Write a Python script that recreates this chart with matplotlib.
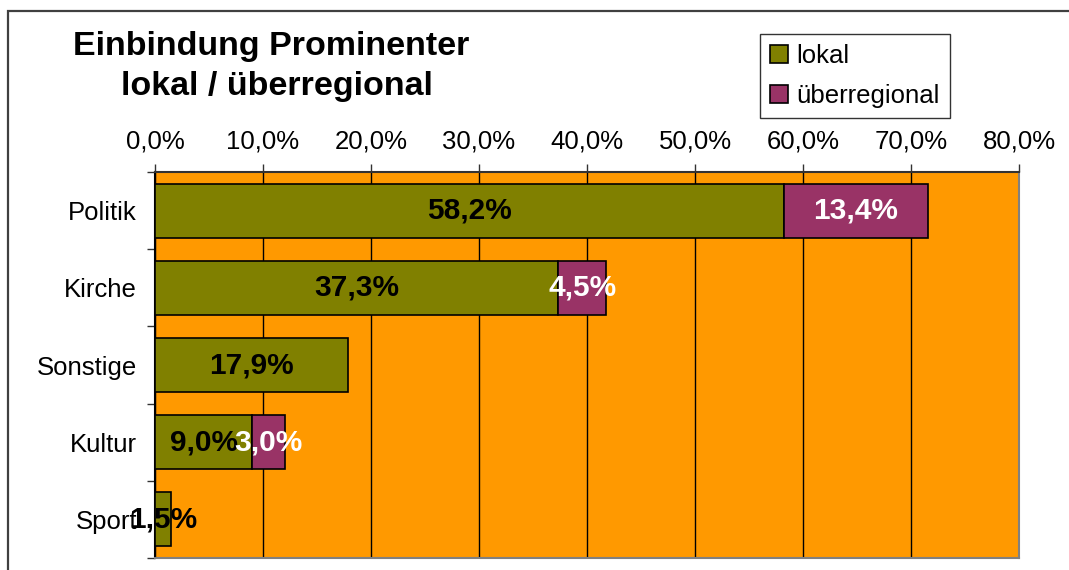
import matplotlib
matplotlib.use("Agg")
import matplotlib.pyplot as plt
from matplotlib.patches import Rectangle, Patch

categories = ["Politik", "Kirche", "Sonstige", "Kultur", "Sport"]
lokal = [58.2, 37.3, 17.9, 9.0, 1.5]
ueberregional = [13.4, 4.5, 0.0, 3.0, 0.0]
xticks = [0, 10, 20, 30, 40, 50, 60, 70, 80]
xtick_labels = ["0,0%", "10,0%", "20,0%", "30,0%", "40,0%", "50,0%", "60,0%", "70,0%", "80,0%"]

OLIVE = "#808000"
PURPLE = "#993366"
ORANGE = "#FF9900"
FONT = ["Liberation Sans", "DejaVu Sans"]
plt.rcParams["font.family"] = FONT

fig = plt.figure(figsize=(10.69, 5.70), dpi=100)
# outer frame
fig.patches.append(Rectangle((8/1069, -0.1), 1.2, 1 - 11/570 + 0.1, transform=fig.transFigure,
                             fill=False, edgecolor="#404040", linewidth=1.6, zorder=0))

ax = fig.add_axes([155/1069, 1 - 558/570, (1019-155)/1069, (558-172)/570])
ax.set_facecolor(ORANGE)

y = list(range(len(categories)))
h = 0.7
ax.barh(y, lokal, height=h, color=OLIVE, edgecolor="black", linewidth=1.2, zorder=3)
ub_y = [yy for yy, v in zip(y, ueberregional) if v > 0]
ub_v = [v for v in ueberregional if v > 0]
ub_l = [l for l, v in zip(lokal, ueberregional) if v > 0]
ax.barh(ub_y, ub_v, left=ub_l, height=h, color=PURPLE, edgecolor="black", linewidth=1.2, zorder=3)

def fmt(v):
    return ("%.1f" % v).replace(".", ",") + "%"

for yy, l, u in zip(y, lokal, ueberregional):
    ax.text(l / 2, yy, fmt(l), ha="center", va="center", fontsize=21.5, fontweight="bold",
            color="black", zorder=5)
    if u > 0:
        ax.text(l + u / 2, yy, fmt(u), ha="center", va="center", fontsize=21.5, fontweight="bold",
                color="white", zorder=6)

ax.set_xlim(0, 80)
ax.set_ylim(4.5, -0.5)
ax.xaxis.tick_top()
ax.set_xticks(xticks)
ax.set_xticklabels(xtick_labels, fontsize=18.5)
ax.tick_params(axis="x", which="major", length=6, width=1, color="#333333", pad=7)
ax.set_yticks(y)
ax.set_yticklabels(categories, fontsize=18.5)
ax.tick_params(axis="y", which="major", length=0, pad=13)
ax.set_yticks([i - 0.5 for i in range(len(categories) + 1)], minor=True)
ax.tick_params(axis="y", which="minor", length=6, width=1, color="#333333")
ax.grid(axis="x", color="black", linewidth=1.0, zorder=1)
ax.set_axisbelow(True)
ax.spines["left"].set_color("black")
ax.spines["top"].set_color("#333333")
ax.spines["right"].set_color("#808080")
ax.spines["bottom"].set_color("#808080")
for s in ax.spines.values():
    s.set_linewidth(1.5)

fig.text(271/1069, 1 - 46/570, "Einbindung Prominenter", ha="center", va="center",
         fontsize=24.5, fontweight="bold")
fig.text(277/1069, 1 - 86/570, "lokal / überregional", ha="center", va="center",
         fontsize=24.5, fontweight="bold")

handles = [Patch(facecolor=OLIVE, edgecolor="black", linewidth=1.2),
           Patch(facecolor=PURPLE, edgecolor="black", linewidth=1.2)]
leg = fig.legend(handles, ["lokal", "überregional"], loc="upper left",
                 bbox_to_anchor=(760/1069, 1 - 34/570), fontsize=18.5, frameon=True,
                 fancybox=False, edgecolor="black", handlelength=0.7, handleheight=0.7,
                 handletextpad=0.3, borderpad=0.4, labelspacing=0.6, borderaxespad=0)
leg.get_frame().set_linewidth(1.0)

fig.savefig("out.png", dpi=100)
